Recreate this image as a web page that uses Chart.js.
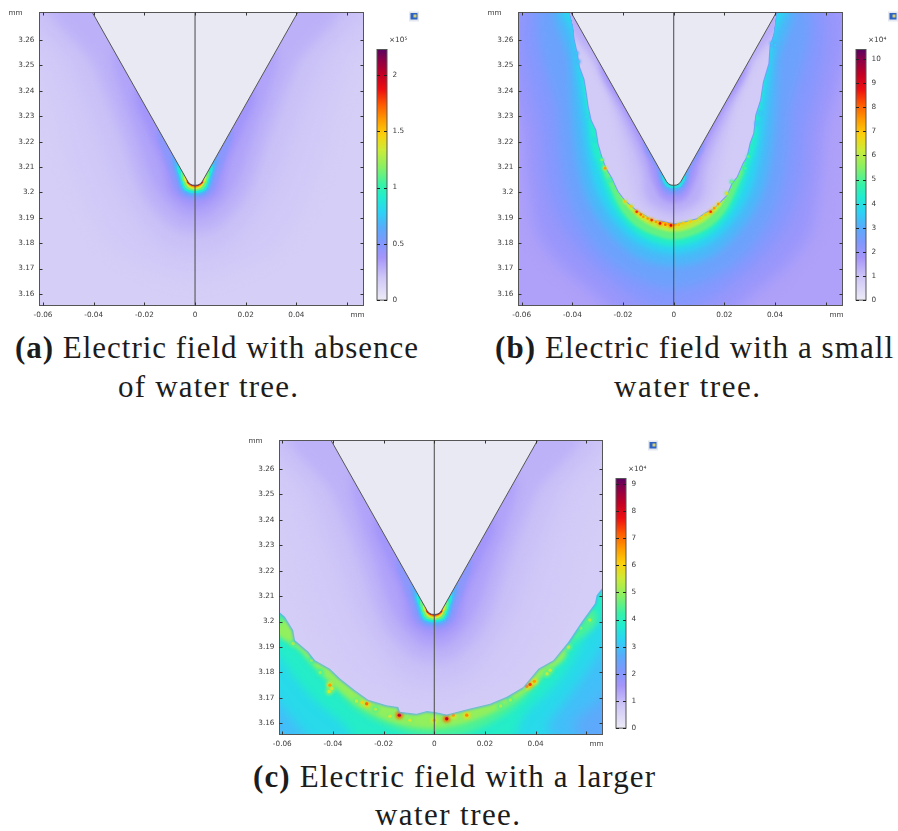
<!DOCTYPE html>
<html><head><meta charset="utf-8">
<script src="https://cdn.jsdelivr.net/npm/chart.js@4/dist/chart.umd.min.js"></script>
<style>
html,body{margin:0;padding:0;background:#fff;width:898px;height:831px;overflow:hidden}
canvas{position:absolute;filter:blur(.35px)}
.cap{position:absolute;white-space:nowrap;font:31px/30px "Liberation Serif",serif;color:#1c1c1c}
.cap b{font-weight:700}
</style></head><body>
<script>
/* ---------- axis ticks (mm) ---------- */
const xTicks=[-0.06,-0.04,-0.02,0,0.02,0.04,0.06];
const xTickLabels=['-0.06','-0.04','-0.02','0','0.02','0.04',''];
const yTicks=[3.16,3.17,3.18,3.19,3.2,3.21,3.22,3.23,3.24,3.25,3.26];
const yTickLabels=['3.16','3.17','3.18','3.19','3.2','3.21','3.22','3.23','3.24','3.25','3.26'];
/* ---------- colour legend ---------- */
const aBarTicks=[0,0.5,1,1.5,2], aBarMax=2.227;
const bBarTicks=[0,1,2,3,4,5,6,7,8,9,10], bBarMax=10.39;
const cBarTicks=[0,1,2,3,4,5,6,7,8,9], cBarMax=9.2;
const colorStops=[[0,'#ecebf6'],[.09,'#cfc7f7'],[.17,'#a595fa'],[.23,'#7f98fd'],[.29,'#58acfb'],[.35,'#2cd2f6'],[.41,'#20ecd0'],[.46,'#36f2a8'],[.53,'#88f064'],[.6,'#cdeb36'],[.66,'#fcd00a'],[.72,'#ff9a00'],[.78,'#ff5a00'],[.84,'#ee0f10'],[.9,'#c30024'],[.96,'#8a0048'],[1,'#5c0060']];
/* ---------- geometry (half outlines, x>=0, mirrored at x=0) ---------- */
const wedgeHalf=[[.0457,3.28],[.0029,3.2044],[.0021,3.2034],[.0011,3.2029],[0,3.2028]];
const wedgeContours=[
 [[.07,3.28],[.062,3.25],[.055,3.23],[.05,3.21],[.035,3.18],[.015,3.168],[0,3.165]],
 [[.062,3.28],[.05,3.25],[.04,3.225],[.03,3.2],[.015,3.18],[0,3.175]],
 [[.054,3.28],[.04,3.25],[.03,3.225],[.021,3.2],[.01,3.187],[0,3.184]],
 [[.02,3.27],[.0322,3.256],[.0292,3.24],[.024,3.225],[.016,3.203],[.007,3.192],[0,3.19]],
 [[.012,3.255],[.0235,3.24],[.019,3.225],[.0135,3.212],[.01,3.2],[.004,3.195],[0,3.194]],
 [[.006,3.24],[.0147,3.225],[.0125,3.215],[.0095,3.206],[.0072,3.2],[.0035,3.1975],[0,3.197]],
 [[.003,3.23],[.0091,3.215],[.0078,3.208],[.0064,3.203],[.004,3.1992],[0,3.1985]],
 [[.002,3.222],[.0075,3.212],[.0066,3.206],[.0052,3.2015],[.003,3.1998],[0,3.1993]],
 [[.002,3.22],[.0068,3.2108],[.006,3.206],[.0045,3.2015],[.0026,3.2002],[0,3.1998]],
 [[.001,3.215],[.0054,3.2085],[.0048,3.204],[.0034,3.2015],[.0018,3.2008],[0,3.2006]],
 [[.001,3.212],[.0044,3.2067],[.0036,3.2035],[.0026,3.202],[.0013,3.2014],[0,3.2012]],
 [[.001,3.21],[.0034,3.205],[.0028,3.2033],[.002,3.2025],[.001,3.202],[0,3.2018]],
 [[.001,3.208],[.0031,3.2044],[.0023,3.2032],[.0015,3.2027],[.0008,3.2025],[0,3.2023]]
];
const wedgeBlur=[8,7,6,4,3,1.8,1.2,.8,.7,.5,.4,.3,.2];
/* panel (a) field levels, x10^5 */
const aBackground=0.156;
const aLevels=[.19,.22,.28,.33,.39,.47,.6,.73,.89,1.11,1.34,1.6,1.96];
/* panel (c) field levels, x10^4 */
const cBackground=2.58, cTreeLevel=0.69, cFringeLevel=2.6;
const cLevels=[.78,.92,1.15,1.38,1.61,1.93,2.48,3.04,3.68,4.6,5.52,6.62,8.1];
const cTree=[[-.08,3.2045],[-.0612,3.2038],[-.059,3.2019],[-.0557,3.1966],[-.055,3.1927],[-.0497,3.1881],[-.0471,3.1848],[-.0412,3.1815],[-.0372,3.1776],[-.0313,3.173],[-.0261,3.1693],[-.0188,3.1671],[-.0142,3.1664],[-.0136,3.1645],[-.007,3.1638],[-.003,3.1648],[0,3.1645],[.0049,3.1635],[.0141,3.1658],[.022,3.1677],[.0286,3.1704],[.0351,3.1743],[.0411,3.1815],[.047,3.1848],[.0529,3.192],[.0582,3.1999],[.0634,3.2071],[.0641,3.2104],[.0667,3.2137],[.08,3.22],[.08,3.29],[-.08,3.29]];
const cOuterLevels=[2.94,3.4,3.86,4.42,4.97];
const cOuterBlur=[7,6,5,3,2];
const cOuter=[
 [[.07,3.175],[.055,3.16],[.05,3.15],[-.055,3.15],[-.064,3.16],[-.08,3.2],[0,3.24],[.08,3.2]],
 [[.07,3.198],[.06,3.18],[.045,3.16],[.04,3.15],[-.045,3.15],[-.05,3.155],[-.064,3.172],[-.08,3.2],[0,3.24],[.08,3.23]],
 [[.07,3.218],[.06,3.195],[.05,3.178],[.036,3.164],[.025,3.152],[-.025,3.152],[-.036,3.16],[-.05,3.172],[-.064,3.19],[-.08,3.21],[0,3.24]],
 [[.062,3.205],[.05,3.188],[.04,3.175],[.03,3.165],[.015,3.157],[0,3.155],[-.015,3.158],[-.03,3.165],[-.04,3.175],[-.05,3.185],[-.06,3.198],[-.063,3.202],[0,3.23]],
 [[.05,3.192],[.042,3.178],[.03,3.168],[.015,3.161],[0,3.158],[-.015,3.16],[-.03,3.167],[-.042,3.177],[-.052,3.188],[-.06,3.2],[0,3.22]]
];
const cSpotX=[-.0412,-.0405,-.0415,-.0267,-.0285,-.0307,-.0138,-.0175,.0049,.0075,.0128,0,-.0096,.0378,.0365,.0351,.0457,.0614,.0529,-.0557,-.0484,-.045,-.0232,.0262,.03,.0445,.0578,.0395];
const cSpotY=[3.175,3.1737,3.1725,3.1677,3.1682,3.1688,3.1632,3.1628,3.1618,3.1632,3.1632,3.1612,3.1612,3.1753,3.1746,3.1743,3.1809,3.2006,3.19,3.1914,3.1848,3.18,3.1655,3.1668,3.1692,3.1795,3.1975,3.1765];
const cSpotV=[6.6,5.6,5.6,7,6,5.4,8.2,5.6,8.2,6.6,6.8,6.4,5.6,7.4,6.8,5.6,5.4,5.2,5.4,5.2,5,5,5.2,5.2,5.2,5.4,5,6.6];
/* panel (b) field levels, x10^4 */
const bBackground=1.56, bTreeLevel=.83, bFringeLevel=2.6;
const bTree=[[-.0415,3.29],[-.0409,3.2708],[-.0395,3.265],[-.039,3.26],[-.0378,3.2545],[-.037,3.2495],[-.0352,3.2445],[-.0343,3.239],[-.0336,3.234],[-.0324,3.2285],[-.0305,3.2245],[-.0297,3.2193],[-.0278,3.2128],[-.0262,3.209],[-.0245,3.2062],[-.0218,3.2005],[-.0192,3.197],[-.0146,3.1931],[-.0118,3.1915],[-.008,3.1891],[-.004,3.1888],[0,3.1878],[.004,3.1885],[.0091,3.1898],[.0125,3.1922],[.0157,3.1937],[.0185,3.1965],[.0209,3.199],[.0228,3.2035],[.0249,3.2062],[.0272,3.2115],[.0288,3.2141],[.03,3.2195],[.0314,3.2233],[.0322,3.2305],[.0341,3.2364],[.0352,3.2435],[.0374,3.2508],[.0378,3.2575],[.0393,3.2626],[.0404,3.2708],[.041,3.29]];
const bOuterLevels=[1.97,2.29,2.7,3.22,3.74,4.36,5.2,6.03,6.86,7.5];
const bOuterBlur=[8,7,6,4.5,3,2,1.5,1.2,1,.7];
const bOuter=[
 [[.06,3.28],[.059,3.22],[.057,3.2],[.054,3.184],[.0446,3.171],[.0314,3.16],[.02,3.15],[0,3.14]],
 [[.052,3.28],[.052,3.22],[.048,3.195],[.038,3.178],[.022,3.163],[.01,3.155],[0,3.152]],
 [[.047,3.28],[.046,3.23],[.042,3.2],[.032,3.18],[.018,3.168],[0,3.162]],
 [[.041,3.28],[.041,3.25],[.039,3.22],[.035,3.2],[.027,3.186],[.015,3.175],[0,3.171]],
 [[.039,3.28],[.0395,3.26],[.0365,3.235],[.034,3.215],[.03,3.2],[.022,3.187],[.012,3.179],[0,3.176]],
 [[.03,3.26],[.033,3.225],[.029,3.208],[.024,3.195],[.017,3.186],[.009,3.181],[0,3.179]],
 [[.025,3.23],[.028,3.212],[.0255,3.203],[.02,3.192],[.012,3.185],[0,3.1815]],
 [[.02,3.22],[.023,3.207],[.02,3.197],[.014,3.19],[.007,3.186],[0,3.1845]],
 [[.015,3.21],[.017,3.2],[.015,3.193],[.008,3.1885],[0,3.186]],
 [[.012,3.205],[.016,3.2],[.012,3.194],[.006,3.1888],[0,3.1868]]
];
const bInnerLevels=[1.04,1.35,1.77,2.29,3.12,3.95];
const bInnerBlur=[4,3,2.5,1.5,.8,.5];
const bInner=[
 [[.05,3.28],[.03,3.25],[.021,3.222],[.017,3.205],[.013,3.195],[0,3.188]],
 [[.042,3.28],[.0305,3.25],[.021,3.23],[.013,3.21],[.0115,3.2],[.008,3.195],[0,3.192]],
 [[.02,3.265],[.0288,3.25],[.0195,3.232],[.0115,3.215],[.0085,3.205],[.005,3.198],[0,3.196]],
 [[.006,3.235],[.0119,3.22],[.0075,3.21],[.0055,3.203],[.003,3.1995],[0,3.199]],
 [[.002,3.218],[.0056,3.2085],[.0042,3.203],[.002,3.201],[0,3.2005]],
 [[.001,3.214],[.0045,3.2067],[.003,3.2025],[.0015,3.2018],[0,3.2015]]
];
const bSpotX=[-.0271,-.0383,-.0376,-.0343,-.0311,-.0284,-.0251,-.0192,-.0168,-.0146,-.013,-.012,-.0103,-.0087,-.007,-.0054,-.0033,-.0011,.0038,.002,.0065,.0104,.0125,.0146,.016,.0176,.0209,.0229,.0282,.0295,.0328,.0341,.0387,.04];
const bSpotY=[3.2095,3.2548,3.2515,3.2298,3.2206,3.2128,3.2049,3.1964,3.1945,3.1924,3.1913,3.1904,3.1897,3.1891,3.1884,3.1878,3.1873,3.187,3.1878,3.1873,3.1885,3.1898,3.1911,3.1924,3.1938,3.1954,3.1996,3.2042,3.2095,3.2141,3.2272,3.2311,3.2587,3.258];
const bSpotV=[7.5,3.5,3.5,4,4.2,5.5,5,7,7,8.5,8,7.5,7.5,8.5,7.5,8.8,8,9,7,7.2,7,7,7,8.5,7.5,7.5,6.5,5.5,5,5.2,3.8,3.7,3.5,3.5];
/* ---------- captions ---------- */
const captionTags=['(a)','','(b)','','(c)',''];
const captionTexts=[' Electric field with absence','of water tree.',' Electric field with a small','water tree.',' Electric field with a larger','water tree.'];
const captionLeft=[15,118,495,614,253,375];
const captionWidth=[403,180,398,146,402,145];
const captionBase=[358,397,358,397,787,825];

/* ---------- helpers ---------- */
function hex(c){return [1,3,5].map(i=>parseInt(c.substr(i,2),16));}
function colorOf(v,max){
  const f=Math.min(1,Math.max(0,v/max));
  for(let i=1;i<colorStops.length;i++){
    if(f<=colorStops[i][0]){
      const a=colorStops[i-1],b=colorStops[i],t=(f-a[0])/(b[0]-a[0]),p=hex(a[1]),q=hex(b[1]);
      return `rgb(${p.map((u,k)=>Math.round(u+(q[k]-u)*t)).join(',')})`;
    }
  }
  return colorStops[colorStops.length-1][1];
}
const toPts=l=>l.map(p=>({x:p[0],y:p[1]}));
const mirror=h=>{const r=h.filter(p=>p[0]!==0).reverse().map(p=>[-p[0],p[1]]);return toPts(h.concat(r));};

function trace(ctx,pts,smooth){
  const n=pts.length;
  ctx.beginPath();
  ctx.moveTo(pts[0].x,pts[0].y);
  for(let i=0;i<n;i++){
    const p0=pts[(i-1+n)%n],p1=pts[i],p2=pts[(i+1)%n],p3=pts[(i+2)%n];
    if(smooth) ctx.bezierCurveTo(p1.x+(p2.x-p0.x)/6,p1.y+(p2.y-p0.y)/6,p2.x-(p3.x-p1.x)/6,p2.y-(p3.y-p1.y)/6,p2.x,p2.y);
    else ctx.lineTo(p2.x,p2.y);
  }
  ctx.closePath();
}
/* filled contour band or soft hot spots: a line dataset whose points come from the chart's own scales */
class BandController extends Chart.LineController{
  draw(){
    const ds=this.getDataset(),pts=this.getMeta().data,ctx=this.chart.ctx;
    ctx.save();
    if(ds.clipDataset!=null){
      trace(ctx,this.chart.getDatasetMeta(ds.clipDataset).data,false);ctx.clip();
    }
    if(ds.blurRadius) ctx.filter=`blur(${ds.blurRadius}px)`;
    if(ds.dotColors){
      pts.forEach((p,i)=>{ctx.beginPath();ctx.fillStyle=ds.dotColors[i];ctx.arc(p.x,p.y,ds.dotRadius,0,Math.PI*2);ctx.fill();});
      ctx.restore();return;
    }
    trace(ctx,pts,!!ds.smoothOutline);
    if(ds.fillColor){ctx.fillStyle=ds.fillColor;ctx.fill();}
    if(ds.strokeColor){ctx.strokeStyle=ds.strokeColor;ctx.lineWidth=ds.strokeWidth;ctx.lineJoin='round';ctx.stroke();}
    ctx.restore();
  }
}
BandController.id='band';
BandController.defaults=Object.assign({},Chart.LineController.defaults);
Chart.register(BandController);

const FONT={family:'"DejaVu Sans"',size:7.3};
const TXT='#3c3c3c';
const framePlugin={
  id:'frame',
  beforeDatasetsDraw(c,_,o){const a=c.chartArea,x=c.ctx;x.save();x.fillStyle=o.background;x.fillRect(a.left,a.top,a.width,a.height);x.restore();},
  afterDatasetsDraw(c){
    const a=c.chartArea,x=c.ctx;x.save();x.strokeStyle='#555';x.lineWidth=1;
    x.strokeRect(a.left,a.top,a.width,a.height);
    x.strokeStyle='#333';x.beginPath();
    c.scales.x.ticks.forEach(t=>{const p=Math.round(c.scales.x.getPixelForValue(t.value))+.5;x.moveTo(p,a.bottom);x.lineTo(p,a.bottom-3);x.moveTo(p,a.top);x.lineTo(p,a.top+3);});
    c.scales.y.ticks.forEach(t=>{const p=Math.round(c.scales.y.getPixelForValue(t.value))+.5;x.moveTo(a.left,p);x.lineTo(a.left+3,p);x.moveTo(a.right,p);x.lineTo(a.right-3,p);});
    x.stroke();
    x.fillStyle=TXT;x.font=`${FONT.size}px ${FONT.family}`;x.textAlign='center';x.textBaseline='middle';
    x.fillText('mm',a.left-24,a.top+.5);
    x.fillText('mm',a.right-6,a.bottom+9.5);
    x.restore();
  }
};
function band(points,level,max,blur,extra){
  return Object.assign({type:'band',data:points,parsing:true,clip:0,fillColor:colorOf(level,max),blurRadius:blur,smoothOutline:true,pointRadius:0,showLine:false,label:'E '+level},extra||{});
}
function mainChart(id,left,top,area,range,datasets,bg){
  const cv=document.createElement('canvas');cv.id=id;cv.width=372;cv.height=326;
  cv.style.left=left+'px';cv.style.top=top+'px';document.body.appendChild(cv);
  datasets.forEach((d,i)=>{d.order=-i;});
  new Chart(cv,{type:'scatter',data:{datasets},plugins:[framePlugin],options:{
    responsive:false,animation:false,events:[],
    layout:{autoPadding:false,padding:{left:0,top:area.top,right:372-39.5-area.w,bottom:326-area.top-area.h-15}},
    plugins:{legend:{display:false},tooltip:{enabled:false},title:{display:false},frame:{background:bg}},
    scales:{
      x:{type:'linear',min:range[0],max:range[1],grid:{display:false,drawTicks:false},border:{display:false},
        afterBuildTicks:s=>{s.ticks=xTicks.map(v=>({value:v}));},afterFit:s=>{s.height=15;},
        ticks:{color:TXT,font:FONT,padding:5.5,autoSkip:false,maxRotation:0,callback:(v,i)=>xTickLabels[i]}},
      y:{type:'linear',min:range[2],max:range[3],grid:{display:false,drawTicks:false},border:{display:false},
        afterBuildTicks:s=>{s.ticks=yTicks.map(v=>({value:v}));},afterFit:s=>{s.width=39.5;},
        ticks:{color:TXT,font:FONT,padding:5,autoSkip:false,callback:(v,i)=>yTickLabels[i]}}
    }}});
}
const barPlugin={
  id:'barFrame',
  afterDatasetsDraw(c,_,o){
    const a=c.chartArea,x=c.ctx;x.save();x.strokeStyle='#555';x.lineWidth=1;x.strokeRect(a.left,a.top,a.width,a.height);
    x.strokeStyle='#222';x.beginPath();
    c.scales.y.ticks.forEach(t=>{const p=Math.round(c.scales.y.getPixelForValue(t.value))+.5;x.moveTo(a.left,p);x.lineTo(a.left+3,p);x.moveTo(a.right,p);x.lineTo(a.right-3,p);});
    x.stroke();
    x.fillStyle=TXT;x.font=`${FONT.size}px ${FONT.family}`;x.textAlign='left';x.textBaseline='middle';
    x.fillText(o.exponent,a.left+12,a.top-9.5);
    const ix=a.left+33,iy=a.top-37;
    x.fillStyle='#e6e8f0';x.fillRect(ix-1,iy-1,10,10);
    x.fillStyle='#2b62c4';x.fillRect(ix+.5,iy+.5,7,6.5);
    x.fillStyle='#d8d070';x.fillRect(ix+3.5,iy+2,3,3);
    x.restore();
  }
};
function colorBar(id,left,top,barTop,barH,max,ticks,exponent){
  const cv=document.createElement('canvas');cv.id=id;cv.width=48;cv.height=310;
  cv.style.left=left+'px';cv.style.top=top+'px';document.body.appendChild(cv);
  new Chart(cv,{type:'bar',data:{labels:[''],datasets:[{label:'E',data:[[0,max]],barPercentage:1,categoryPercentage:1,borderWidth:0,
    backgroundColor(ctx){
      const ch=ctx.chart;if(!ch.chartArea) return '#ccc';
      const s=ch.scales.y,g=ch.ctx.createLinearGradient(0,s.getPixelForValue(0),0,s.getPixelForValue(max));
      colorStops.forEach(p=>g.addColorStop(p[0],p[1]));return g;}}]},
    plugins:[barPlugin],options:{responsive:false,animation:false,events:[],
    layout:{autoPadding:false,padding:{left:2,top:barTop,right:0,bottom:310-barTop-barH}},
    plugins:{legend:{display:false},tooltip:{enabled:false},barFrame:{exponent}},
    scales:{x:{display:false},
      y:{position:'right',min:0,max,grid:{display:false,drawTicks:false},border:{display:false},
        afterBuildTicks:s=>{s.ticks=ticks.map(v=>({value:v}));},afterFit:s=>{s.width=36;},
        ticks:{color:TXT,font:FONT,padding:5.5,autoSkip:false,callback:v=>String(v)}}}}});
}
function wedgeAndLine(range){
  return [
    {type:'band',data:mirror(wedgeHalf),clip:0,fillColor:'#e9e9f4',strokeColor:'#555',strokeWidth:1,pointRadius:0,showLine:false,label:'needle'},
    {type:'scatter',data:toPts([[0,range[3]],[0,range[2]]]),showLine:true,borderColor:'#555',borderWidth:1.1,pointRadius:0,clip:0,label:'axis'}
  ];
}
function spots(xs,ys,vs,max,halo,core){
  const data=toPts(xs.map((x,i)=>[x,ys[i]]));
  const base={type:'band',clip:0,pointRadius:0,showLine:false};
  return [Object.assign({},base,{data,dotColors:vs.map(v=>colorOf(v*.86,max)),dotRadius:halo,blurRadius:halo*.45,label:'hot halo'}),
          Object.assign({},base,{data:data.map(p=>({...p})),dotColors:vs.map(v=>colorOf(v,max)),dotRadius:core,blurRadius:.5,label:'hot'})];
}

/* ---------- panel (a) ---------- */
const rangeA=[-.0614,.0665,3.15547,3.27083];
mainChart('pa',0,0,{top:12.5,w:324,h:293},rangeA,[
  ...wedgeContours.map((h,i)=>band(mirror(h),aLevels[i],aBarMax,wedgeBlur[i])),
  ...wedgeAndLine(rangeA)],colorOf(aBackground,aBarMax));
colorBar('ba',375,0,49.5,253,aBarMax,aBarTicks,'×10⁵');

/* ---------- panel (b) ---------- */
const rangeB=[-.06127,.06664,3.15547,3.27083];
const bDs=[...bOuter.map((h,i)=>band(mirror(h),bOuterLevels[i],bBarMax,bOuterBlur[i]))];
bDs.push({type:'band',data:toPts(bTree),clip:0,strokeColor:colorOf(bFringeLevel,bBarMax),strokeWidth:2,blurRadius:.5,pointRadius:0,showLine:false,label:'fringe'});
const bTreeIndex=bDs.length;
bDs.push(band(toPts(bTree),bTreeLevel,bBarMax,0,{smoothOutline:false}));
bInner.forEach((h,i)=>bDs.push(band(mirror(h),bInnerLevels[i],bBarMax,bInnerBlur[i],{clipDataset:bTreeIndex})));
bDs.push(...spots(bSpotX,bSpotY,bSpotV,bBarMax,2.3,1.3),...wedgeAndLine(rangeB));
mainChart('pb',479,0,{top:12.5,w:324,h:293},rangeB,bDs,colorOf(bBackground,bBarMax));
colorBar('bb',854,0,49.5,253,bBarMax,bBarTicks,'×10⁴');

/* ---------- panel (c) ---------- */
const rangeC=[-.06111,.0664,3.1556,3.2712];
const cDs=[...cOuter.map((p,i)=>band(toPts(p),cOuterLevels[i],cBarMax,cOuterBlur[i]))];
cDs.push(...spots(cSpotX,cSpotY,cSpotV,cBarMax,3.6,1.7));
cDs.push({type:'band',data:toPts(cTree),clip:0,strokeColor:colorOf(cFringeLevel,cBarMax),strokeWidth:2.6,blurRadius:.9,pointRadius:0,showLine:false,label:'fringe'});
const cTreeIndex=cDs.length;
cDs.push(band(toPts(cTree),cTreeLevel,cBarMax,0,{smoothOutline:false}));
wedgeContours.forEach((h,i)=>cDs.push(band(mirror(h),cLevels[i],cBarMax,wedgeBlur[i],{clipDataset:cTreeIndex})));
cDs.push(...wedgeAndLine(rangeC));
mainChart('pc',240,428,{top:12.5,w:323,h:294},rangeC,cDs,colorOf(cBackground,cBarMax));
colorBar('bc',614,428,50.5,253,cBarMax,cBarTicks,'×10⁴');

/* ---------- captions ---------- */
captionTexts.forEach((t,i)=>{
  const d=document.createElement('div');d.className='cap';
  if(captionTags[i]){const b=document.createElement('b');b.textContent=captionTags[i];d.appendChild(b);}
  d.appendChild(document.createTextNode(t));
  d.style.left=captionLeft[i]+'px';d.style.top=(captionBase[i]-25)+'px';
  document.body.appendChild(d);
  const w=d.getBoundingClientRect().width;
  d.style.letterSpacing=((captionWidth[i]-w)/(d.textContent.length-1))+'px';
});
</script>
</body></html>
